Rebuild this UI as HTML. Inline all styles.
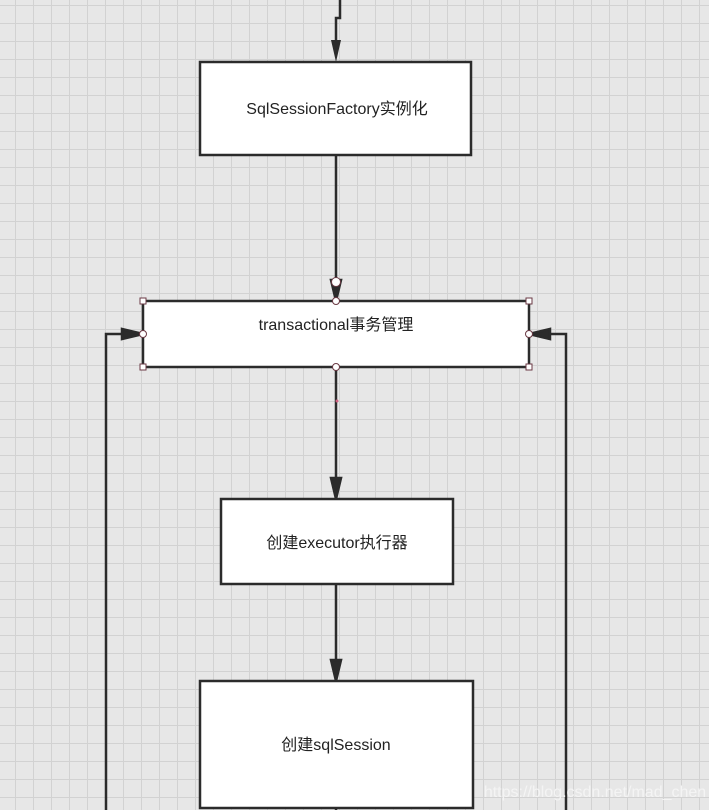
<!DOCTYPE html>
<html><head><meta charset="utf-8"><style>
html,body{margin:0;padding:0}
body{width:709px;height:810px;overflow:hidden;position:relative;
background-color:#e7e7e7;
background-image:linear-gradient(to right,#d2d2d2 1px,transparent 1px),linear-gradient(to bottom,#d2d2d2 1px,transparent 1px);
background-size:18px 18px;background-position:15px 5px;
font-family:"Liberation Sans","Noto Sans CJK SC",sans-serif}
svg{position:absolute;left:0;top:0}
</style></head><body>
<svg width="709" height="810" viewBox="0 0 709 810">
<g stroke="#2b2b2b" stroke-width="2.5" fill="none">
<path d="M340,0 V18 H336 V41"/>
<path d="M331,40 L336,62 L341,40 z" fill="#2b2b2b" stroke="none"/>
<path d="M336,156 V280"/>
<path d="M331,280 L336,301 L341,280 z" fill="#2b2b2b"/>
<path d="M336,367 V478"/>
<path d="M331,478 L336,499 L341,478 z" fill="#2b2b2b"/>
<path d="M336,585 V660"/>
<path d="M331,660 L336,681 L341,660 z" fill="#2b2b2b"/>
<path d="M336,808 V810"/>
<path d="M106,810 V334 H122"/>
<path d="M122,329 L143,334 L122,339 z" fill="#2b2b2b"/>
<path d="M566,810 V334 H550"/>
<path d="M550,329 L529,334 L550,339 z" fill="#2b2b2b"/>
</g>
<g fill="#fff" stroke="#2b2b2b" stroke-width="2.5">
<rect x="200" y="62" width="271" height="93"/>
<rect x="143" y="301" width="386" height="66"/>
<rect x="221" y="499" width="232" height="85"/>
<rect x="200" y="681" width="273" height="127"/>
</g>
<g fill="#fff" stroke="#6b3a44" stroke-width="1">
<rect x="140" y="298" width="6" height="6"/><rect x="526" y="298" width="6" height="6"/>
<rect x="140" y="364" width="6" height="6"/><rect x="526" y="364" width="6" height="6"/>
<circle cx="336" cy="301" r="3.5"/><circle cx="336" cy="367" r="3.5"/>
<circle cx="143" cy="334" r="3.5"/><circle cx="529" cy="334" r="3.5"/>
<circle cx="336" cy="282" r="4.5"/>
</g>
<circle cx="337" cy="401" r="1.5" fill="#d06080"/>
<g font-size="16" fill="#222" text-anchor="middle">
<text x="337" y="114">SqlSessionFactory实例化</text>
<text x="336" y="330">transactional事务管理</text>
<text x="337" y="548">创建executor执行器</text>
<text x="336" y="750">创建sqlSession</text>
</g>
<text x="595" y="797" font-size="16" fill="#f4f4f4" text-anchor="middle">https://blog.csdn.net/mad_chen</text>
</svg>
</body></html>
